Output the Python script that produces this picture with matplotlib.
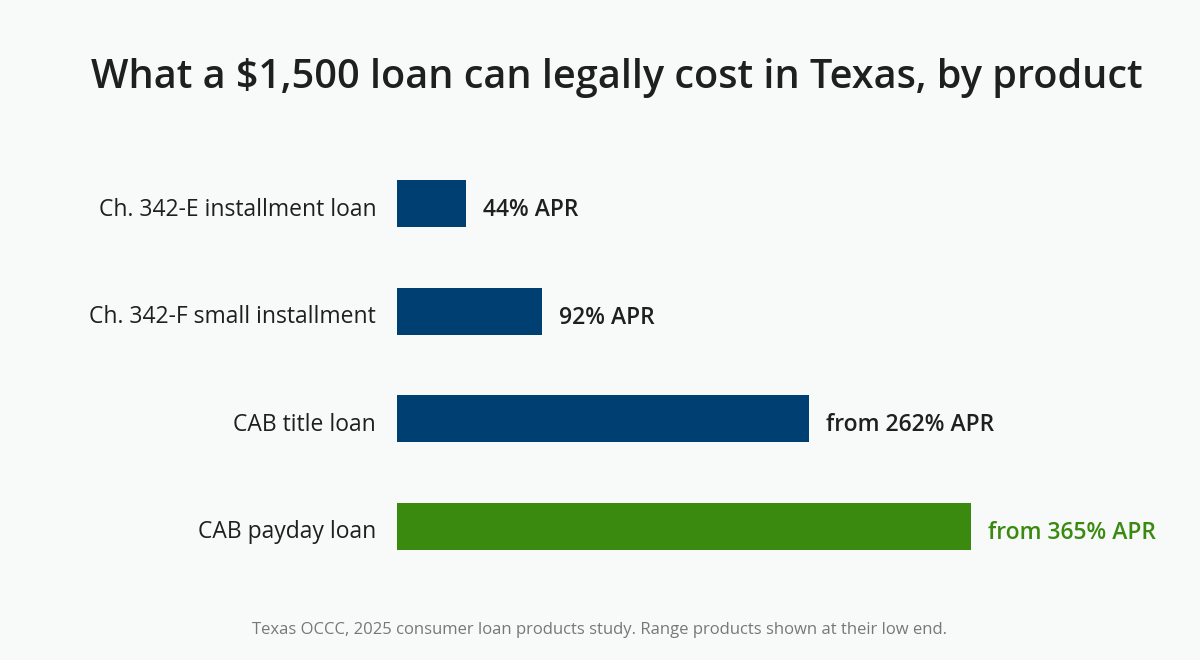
import matplotlib
matplotlib.use("Agg")
import matplotlib.pyplot as plt

categories = ["Ch. 342-E installment loan", "Ch. 342-F small installment", "CAB title loan", "CAB payday loan"]
values = [44, 92, 262, 365]
labels = ["44% APR", "92% APR", "from 262% APR", "from 365% APR"]
colors = ["#003f72", "#003f72", "#003f72", "#3a8a10"]
text_colors = ["#1f1f1f", "#1f1f1f", "#1f1f1f", "#3a8a10"]

plt.rcParams['font.family'] = ['Open Sans', 'DejaVu Sans']
bg = "#f8faf9"
fig = plt.figure(figsize=(12, 6.6), dpi=100, facecolor=bg)
ax = fig.add_axes([397/1200, 1-580/660, (971-397)/1200, 430/660])
ax.set_facecolor(bg)
y = list(range(len(categories)))
ax.barh(y, values, height=0.44, color=colors)
ax.set_xlim(0, 365)
ax.set_ylim(3.5, -0.5)
for i, (v, l, c) in enumerate(zip(values, labels, text_colors)):
    ax.text(v + 11, i + 0.06, l, va='center', ha='left', fontsize=16.5, fontweight='semibold', color=c, clip_on=False)
ax.set_yticks(y)
ax.set_yticklabels(categories, fontsize=16.5, color="#1f1f1f", va='center')
for t in ax.get_yticklabels():
    t.set_y(t.get_position()[1])
ax.tick_params(axis='y', length=0, pad=15)
import matplotlib.transforms as mtrans
off = mtrans.ScaledTranslation(0, -6/100, fig.dpi_scale_trans)
for t in ax.get_yticklabels():
    t.set_transform(t.get_transform() + off)
ax.set_xticks([])
for s in ax.spines.values():
    s.set_visible(False)
fig.text(617/1200, 1-78/660, "What a $1,500 loan can legally cost in Texas, by product",
         ha='center', va='center', fontsize=28.5, fontweight='semibold', color="#1f1f1f")
fig.text(600/1200, 1-630/660, "Texas OCCC, 2025 consumer loan products study. Range products shown at their low end.",
         ha='center', va='center', fontsize=12, color="#777777")
fig.savefig("out.png", dpi=100, facecolor=bg)
